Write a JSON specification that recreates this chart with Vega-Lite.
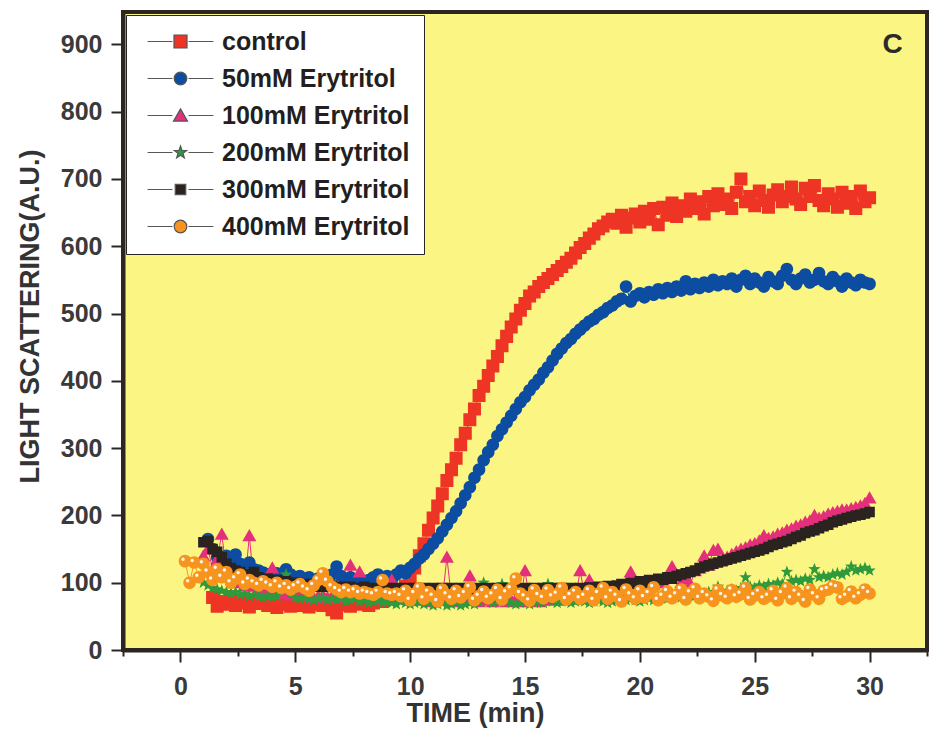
{
"$schema": "https://vega.github.io/schema/vega-lite/v6.json",
"width": 804, "height": 638,
"autosize": "none",
"padding": {"left": 123, "top": 12, "right": 4, "bottom": 82},
"background": "white",
"config": {"view": {"fill": "#FBF583", "stroke": "#2c2623", "strokeWidth": 4}, "font": "Liberation Sans"},
"datasets": {"main": [
{"t":0.2,"f":132},{"t":0.4,"f":100},{"t":0.6,"f":130},{"t":0.8,"f":108},
{"t":1.0,"c":140,"d":100,"e":160,"f":128},
{"t":1.2,"b":165,"c":150,"d":96,"e":162,"f":116},
{"t":1.4,"a":78,"b":150,"c":120,"d":92,"e":150,"f":104},
{"t":1.6,"a":65,"b":138,"c":135,"d":90,"e":146,"f":120},
{"t":1.8,"a":72,"b":132,"c":172,"d":88,"e":138,"f":108},
{"t":2.0,"a":68,"b":140,"c":118,"d":86,"e":128,"f":116},
{"t":2.2,"a":75,"b":130,"c":110,"d":84,"e":122,"f":100},
{"t":2.4,"a":66,"b":142,"c":104,"d":86,"e":118,"f":106},
{"t":2.6,"a":70,"b":128,"c":100,"d":82,"e":116,"f":112},
{"t":2.8,"a":73,"b":125,"c":96,"d":84,"e":112,"f":98},
{"t":3.0,"a":64,"b":130,"c":170,"d":80,"e":110,"f":104},
{"t":3.2,"a":71,"b":120,"c":95,"d":82,"e":116,"f":100},
{"t":3.4,"a":69,"b":118,"c":92,"d":80,"e":108,"f":96},
{"t":3.6,"a":74,"b":115,"c":90,"d":78,"e":104,"f":102},
{"t":3.8,"a":66,"b":112,"c":88,"d":80,"e":106,"f":98},
{"t":4.0,"a":70,"b":110,"c":122,"d":78,"e":102,"f":94},
{"t":4.2,"a":63,"b":114,"c":86,"d":80,"e":104,"f":100},
{"t":4.4,"a":68,"b":108,"c":84,"d":96,"e":100,"f":92},
{"t":4.6,"a":72,"b":120,"c":86,"d":112,"e":102,"f":96},
{"t":4.8,"a":65,"b":112,"c":82,"d":84,"e":98,"f":90},
{"t":5.0,"a":69,"b":106,"c":84,"d":78,"e":100,"f":94},
{"t":5.2,"a":66,"b":110,"c":80,"d":76,"e":96,"f":98},
{"t":5.4,"a":71,"b":104,"c":82,"d":78,"e":98,"f":92},
{"t":5.6,"a":64,"b":108,"c":80,"d":76,"e":96,"f":88},
{"t":5.8,"a":68,"b":102,"c":78,"d":74,"e":98,"f":96},
{"t":6.0,"a":70,"b":106,"c":80,"d":76,"e":94,"f":104},
{"t":6.2,"a":66,"b":100,"c":82,"d":78,"e":96,"f":114},
{"t":6.4,"a":72,"b":104,"c":78,"d":74,"e":94,"f":102},
{"t":6.6,"a":60,"b":112,"c":80,"d":76,"e":96,"f":94},
{"t":6.8,"a":55,"b":124,"c":78,"d":74,"e":92,"f":90},
{"t":7.0,"a":67,"b":110,"c":82,"d":76,"e":94,"f":86},
{"t":7.2,"a":70,"b":104,"c":80,"d":72,"e":92,"f":90},
{"t":7.4,"a":65,"b":108,"c":126,"d":74,"e":94,"f":86},
{"t":7.6,"a":71,"b":102,"c":80,"d":76,"e":90,"f":88},
{"t":7.8,"a":68,"b":106,"c":116,"d":72,"e":92,"f":84},
{"t":8.0,"a":73,"b":100,"c":78,"d":74,"e":94,"f":86},
{"t":8.2,"a":66,"b":104,"c":80,"d":70,"e":92,"f":84},
{"t":8.4,"a":70,"b":108,"c":76,"d":72,"e":90,"f":82},
{"t":8.6,"a":74,"b":112,"c":78,"d":74,"e":92,"f":86},
{"t":8.8,"a":72,"b":106,"c":80,"d":70,"e":90,"f":104},
{"t":9.0,"a":76,"b":110,"c":76,"d":72,"e":92,"f":84},
{"t":9.2,"a":78,"b":104,"c":104,"d":70,"e":90,"f":82},
{"t":9.4,"a":82,"b":112,"c":78,"d":68,"e":92,"f":84},
{"t":9.6,"a":86,"b":118,"c":76,"d":72,"e":90,"f":80},
{"t":9.8,"a":95,"b":114,"c":78,"d":70,"e":92,"f":88},
{"t":10.0,"a":108,"b":122,"c":74,"d":68,"e":90,"f":74},
{"t":10.2,"a":122,"b":128,"c":76,"d":70,"e":92,"f":84},
{"t":10.4,"a":140,"b":136,"c":78,"d":72,"e":90,"f":92},
{"t":10.6,"a":158,"b":142,"c":74,"d":68,"e":92,"f":76},
{"t":10.8,"a":178,"b":150,"c":76,"d":70,"e":90,"f":86},
{"t":11.0,"a":196,"b":158,"c":72,"d":66,"e":92,"f":80},
{"t":11.2,"a":214,"b":166,"c":76,"d":68,"e":90,"f":72},
{"t":11.4,"a":232,"b":176,"c":74,"d":70,"e":92,"f":90},
{"t":11.6,"a":252,"b":186,"c":138,"d":66,"e":90,"f":82},
{"t":11.8,"a":268,"b":196,"c":76,"d":68,"e":92,"f":76},
{"t":12.0,"a":285,"b":206,"c":72,"d":70,"e":90,"f":88},
{"t":12.2,"a":305,"b":218,"c":74,"d":66,"e":92,"f":78},
{"t":12.4,"a":322,"b":230,"c":76,"d":68,"e":90,"f":84},
{"t":12.6,"a":342,"b":242,"c":110,"d":70,"e":92,"f":93},
{"t":12.8,"a":358,"b":256,"c":74,"d":68,"e":90,"f":74},
{"t":13.0,"a":378,"b":268,"c":72,"d":72,"e":92,"f":80},
{"t":13.2,"a":392,"b":282,"c":76,"d":100,"e":90,"f":87},
{"t":13.4,"a":408,"b":294,"c":74,"d":74,"e":92,"f":77},
{"t":13.6,"a":422,"b":305,"c":72,"d":70,"e":90,"f":82},
{"t":13.8,"a":436,"b":318,"c":74,"d":72,"e":92,"f":90},
{"t":14.0,"a":452,"b":328,"c":76,"d":98,"e":90,"f":75},
{"t":14.2,"a":466,"b":338,"c":72,"d":72,"e":92,"f":85},
{"t":14.4,"a":480,"b":348,"c":74,"d":70,"e":90,"f":91},
{"t":14.6,"a":492,"b":358,"c":76,"d":68,"e":92,"f":106},
{"t":14.8,"a":505,"b":368,"c":72,"d":70,"e":90,"f":84},
{"t":15.0,"a":515,"b":376,"c":118,"d":72,"e":92,"f":79},
{"t":15.2,"a":526,"b":386,"c":74,"d":68,"e":90,"f":73},
{"t":15.4,"a":532,"b":394,"c":76,"d":70,"e":92,"f":89},
{"t":15.6,"a":540,"b":402,"c":72,"d":72,"e":90,"f":81},
{"t":15.8,"a":546,"b":412,"c":74,"d":70,"e":92,"f":77},
{"t":16.0,"a":552,"b":420,"c":76,"d":98,"e":90,"f":89},
{"t":16.2,"a":558,"b":430,"c":78,"d":72,"e":92,"f":79},
{"t":16.4,"a":564,"b":440,"c":74,"d":70,"e":90,"f":83},
{"t":16.6,"a":570,"b":448,"c":76,"d":72,"e":92,"f":92},
{"t":16.8,"a":576,"b":456,"c":78,"d":74,"e":90,"f":75},
{"t":17.0,"a":582,"b":462,"c":80,"d":70,"e":92,"f":81},
{"t":17.2,"a":590,"b":470,"c":76,"d":72,"e":90,"f":86},
{"t":17.4,"a":598,"b":476,"c":118,"d":74,"e":92,"f":76},
{"t":17.6,"a":604,"b":482,"c":80,"d":72,"e":91,"f":80},
{"t":17.8,"a":612,"b":488,"c":104,"d":70,"e":93,"f":88},
{"t":18.0,"a":618,"b":492,"c":78,"d":72,"e":92,"f":74},
{"t":18.2,"a":626,"b":498,"c":82,"d":74,"e":94,"f":84},
{"t":18.4,"a":630,"b":502,"c":80,"d":72,"e":93,"f":92},
{"t":18.6,"a":636,"b":508,"c":84,"d":70,"e":95,"f":76},
{"t":18.8,"a":640,"b":512,"c":82,"d":72,"e":94,"f":86},
{"t":19.0,"a":634,"b":518,"c":86,"d":74,"e":96,"f":80},
{"t":19.2,"a":646,"b":522,"c":84,"d":72,"e":98,"f":72},
{"t":19.4,"a":628,"b":540,"c":88,"d":74,"e":97,"f":90},
{"t":19.6,"a":642,"b":518,"c":116,"d":76,"e":100,"f":82},
{"t":19.8,"a":648,"b":526,"c":90,"d":74,"e":98,"f":76},
{"t":20.0,"a":636,"b":530,"c":92,"d":72,"e":102,"f":88},
{"t":20.2,"a":652,"b":524,"c":94,"d":74,"e":100,"f":78},
{"t":20.4,"a":640,"b":532,"c":96,"d":76,"e":104,"f":84},
{"t":20.6,"a":656,"b":528,"c":98,"d":74,"e":102,"f":93},
{"t":20.8,"a":632,"b":536,"c":100,"d":76,"e":106,"f":74},
{"t":21.0,"a":658,"b":530,"c":104,"d":78,"e":104,"f":80},
{"t":21.2,"a":646,"b":538,"c":108,"d":76,"e":108,"f":87},
{"t":21.4,"a":664,"b":532,"c":124,"d":78,"e":106,"f":77},
{"t":21.6,"a":644,"b":540,"c":112,"d":80,"e":110,"f":82},
{"t":21.8,"a":660,"b":534,"c":100,"d":78,"e":112,"f":90},
{"t":22.0,"a":652,"b":548,"c":106,"d":80,"e":114,"f":75},
{"t":22.2,"a":670,"b":536,"c":98,"d":82,"e":116,"f":85},
{"t":22.4,"a":656,"b":544,"c":118,"d":80,"e":118,"f":91},
{"t":22.6,"a":666,"b":538,"c":122,"d":84,"e":122,"f":77},
{"t":22.8,"a":648,"b":546,"c":140,"d":82,"e":124,"f":84},
{"t":23.0,"a":674,"b":540,"c":126,"d":86,"e":126,"f":79},
{"t":23.2,"a":660,"b":550,"c":148,"d":84,"e":128,"f":73},
{"t":23.4,"a":678,"b":542,"c":150,"d":94,"e":130,"f":89},
{"t":23.6,"a":662,"b":548,"c":134,"d":86,"e":132,"f":81},
{"t":23.8,"a":670,"b":544,"c":138,"d":88,"e":134,"f":77},
{"t":24.0,"a":656,"b":552,"c":142,"d":90,"e":136,"f":89},
{"t":24.2,"a":680,"b":540,"c":146,"d":88,"e":138,"f":79},
{"t":24.4,"a":700,"b":550,"c":150,"d":92,"e":140,"f":83},
{"t":24.6,"a":666,"b":556,"c":152,"d":108,"e":142,"f":92},
{"t":24.8,"a":674,"b":544,"c":156,"d":94,"e":144,"f":75},
{"t":25.0,"a":660,"b":552,"c":158,"d":92,"e":146,"f":81},
{"t":25.2,"a":682,"b":546,"c":162,"d":96,"e":148,"f":86},
{"t":25.4,"a":668,"b":540,"c":170,"d":94,"e":150,"f":76},
{"t":25.6,"a":658,"b":554,"c":166,"d":98,"e":153,"f":80},
{"t":25.8,"a":676,"b":548,"c":168,"d":96,"e":156,"f":88},
{"t":26.0,"a":684,"b":544,"c":172,"d":100,"e":158,"f":74},
{"t":26.2,"a":666,"b":556,"c":174,"d":98,"e":160,"f":84},
{"t":26.4,"a":674,"b":566,"c":178,"d":116,"e":162,"f":92},
{"t":26.6,"a":688,"b":550,"c":180,"d":102,"e":165,"f":76},
{"t":26.8,"a":670,"b":544,"c":184,"d":104,"e":168,"f":86},
{"t":27.0,"a":662,"b":552,"c":186,"d":102,"e":170,"f":80},
{"t":27.2,"a":686,"b":558,"c":190,"d":106,"e":174,"f":72},
{"t":27.4,"a":674,"b":546,"c":192,"d":104,"e":176,"f":90},
{"t":27.6,"a":690,"b":550,"c":200,"d":120,"e":178,"f":82},
{"t":27.8,"a":668,"b":560,"c":196,"d":108,"e":181,"f":76},
{"t":28.0,"a":660,"b":548,"c":198,"d":110,"e":184,"f":88},
{"t":28.2,"a":678,"b":544,"c":202,"d":108,"e":186,"f":90},
{"t":28.4,"a":670,"b":554,"c":204,"d":112,"e":190,"f":95},
{"t":28.6,"a":658,"b":548,"c":206,"d":114,"e":192,"f":93},
{"t":28.8,"a":680,"b":540,"c":208,"d":112,"e":194,"f":76},
{"t":29.0,"a":664,"b":552,"c":208,"d":116,"e":196,"f":80},
{"t":29.2,"a":674,"b":546,"c":210,"d":124,"e":198,"f":87},
{"t":29.4,"a":656,"b":542,"c":212,"d":118,"e":200,"f":77},
{"t":29.6,"a":682,"b":550,"c":214,"d":120,"e":201,"f":82},
{"t":29.8,"a":666,"b":546,"c":218,"d":122,"e":203,"f":90},
{"t":30.0,"a":672,"b":544,"c":226,"d":118,"e":205,"f":84}
]},
"layer": [
  {"data": {"name": "main"},
   "transform": [{"fold": ["a", "b", "c", "d", "e", "f"], "as": ["s", "v"]}, {"filter": "isValid(datum.v)"}],
   "mark": {"type": "line", "strokeWidth": 1},
   "encoding": {
     "x": {"field": "t", "type": "quantitative"},
     "y": {"field": "v", "type": "quantitative"},
     "stroke": {"field": "s", "type": "nominal",
       "scale": {"range": ["#EE3424", "#0C4DA2", "#E4307A", "#2E9A3C", "#2A2320", "#F7941E"]},
       "legend": null}}},
  {"data": {"name": "main"},
   "transform": [{"fold": ["a", "b", "c", "d", "e", "f"], "as": ["s", "v"]}, {"filter": "isValid(datum.v)"}],
   "mark": {"type": "point", "filled": true, "opacity": 1, "size": 196},
   "encoding": {
     "x": {"field": "t", "type": "quantitative",
       "scale": {"domain": [-2.5, 32.5], "nice": false, "zero": false},
       "axis": {"title": "TIME (min)", "grid": false,
         "values": [-2.5, 0, 2.5, 5, 7.5, 10, 12.5, 15, 17.5, 20, 22.5, 25, 27.5, 30, 32.5],
         "labelExpr": "datum.value % 5 === 0 ? datum.label : ''",
         "tickSize": {"condition": {"test": "datum.value % 5 === 0", "value": 12}, "value": 6},
         "tickWidth": 2, "tickColor": "#2c2623", "domainColor": "#2c2623", "domainWidth": 4,
         "labelFontSize": 25, "labelFontWeight": "bold", "labelColor": "#3a3a3a", "labelPadding": 12, "labelFlush": false,
         "titleFontSize": 27, "titleFontWeight": "bold", "titleColor": "#333333", "titlePadding": 1, "titleX": 352}},
     "y": {"field": "v", "type": "quantitative",
       "scale": {"domain": [0, 948], "nice": false},
       "axis": {"title": "LIGHT SCATTERING(A.U.)", "grid": false,
         "values": [0, 50, 100, 150, 200, 250, 300, 350, 400, 450, 500, 550, 600, 650, 700, 750, 800, 850, 900],
         "labelExpr": "datum.value % 100 === 0 ? datum.label : ''",
         "tickSize": {"condition": {"test": "datum.value % 100 === 0", "value": 12}, "value": 6},
         "tickWidth": 2, "tickColor": "#2c2623", "domainColor": "#2c2623", "domainWidth": 4,
         "labelFontSize": 25, "labelFontWeight": "bold", "labelColor": "#3a3a3a", "labelPadding": 9, "labelFlush": false,
         "titleFontSize": 27, "titleFontWeight": "bold", "titleColor": "#333333", "titlePadding": 16, "titleY": 304}},
     "color": {"field": "s", "type": "nominal",
       "scale": {"domain": ["a", "b", "c", "d", "e", "f"], "range": ["#EE3424", "#0C4DA2", "#E4307A", "#2E9A3C", "#2A2320", "#F7941E"]},
       "legend": {"title": null, "orient": "top-left", "offset": 3, "padding": 14,
         "fillColor": "white", "strokeColor": "#2b2522",
         "symbolSize": 196, "symbolOffset": 28, "labelOffset": 29, "rowPadding": 11,
         "symbolStrokeColor": "#555555", "symbolStrokeWidth": 1.2,
         "labelFontSize": 25, "labelFontWeight": "bold", "labelColor": "#231f20", "labelLimit": 400,
         "labelExpr": "datum.label === 'a' ? 'control' : datum.label === 'b' ? '50mM Erytritol' : datum.label === 'c' ? '100mM Erytritol' : datum.label === 'd' ? '200mM Erytritol' : datum.label === 'e' ? '300mM Erytritol' : '400mM Erytritol'"}},
     "shape": {"field": "s", "type": "nominal",
       "scale": {"domain": ["a", "b", "c", "d", "e", "f"],
         "range": ["M-4.7,0H-1.15M1.15,0H4.7M-0.93,-0.93H0.93V0.93H-0.93Z",
                   "M-4.7,0H-1.15M1.15,0H4.7M-0.9,0A0.9,0.9,0,1,0,0.9,0A0.9,0.9,0,1,0,-0.9,0Z",
                   "M-4.7,0H-1.15M1.15,0H4.7M0,-0.95L1,0.8H-1Z",
                   "M-4.7,0H-1.15M1.15,0H4.7M0,-0.93L0.223,-0.307L0.884,-0.287L0.361,0.117L0.547,0.752L0,0.38L-0.547,0.752L-0.361,0.117L-0.884,-0.287L-0.223,-0.307Z",
                   "M-4.7,0H-1.15M1.15,0H4.7M-0.75,-0.75H0.75V0.75H-0.75Z",
                   "M-4.7,0H-1.15M1.15,0H4.7M-0.9,0A0.9,0.9,0,1,0,0.9,0A0.9,0.9,0,1,0,-0.9,0Z"]}},
     "order": {"field": "s"}
   }},
  {"data": {"name": "main"},
   "transform": [{"fold": ["f"], "as": ["s", "v"]}, {"filter": "isValid(datum.v)"}],
   "mark": {"type": "point", "filled": true, "color": "white", "size": 12, "xOffset": -2, "yOffset": -2, "opacity": 0.9},
   "encoding": {
     "x": {"field": "t", "type": "quantitative"},
     "y": {"field": "v", "type": "quantitative"}}},
  {"data": {"values": [{"k": 1}]},
   "mark": {"type": "text", "fontSize": 28, "fontWeight": "bold", "color": "#2a2a2a", "align": "center", "baseline": "middle"},
   "encoding": {"x": {"datum": 31}, "y": {"datum": 899}, "text": {"value": "C"}}}
]
}
